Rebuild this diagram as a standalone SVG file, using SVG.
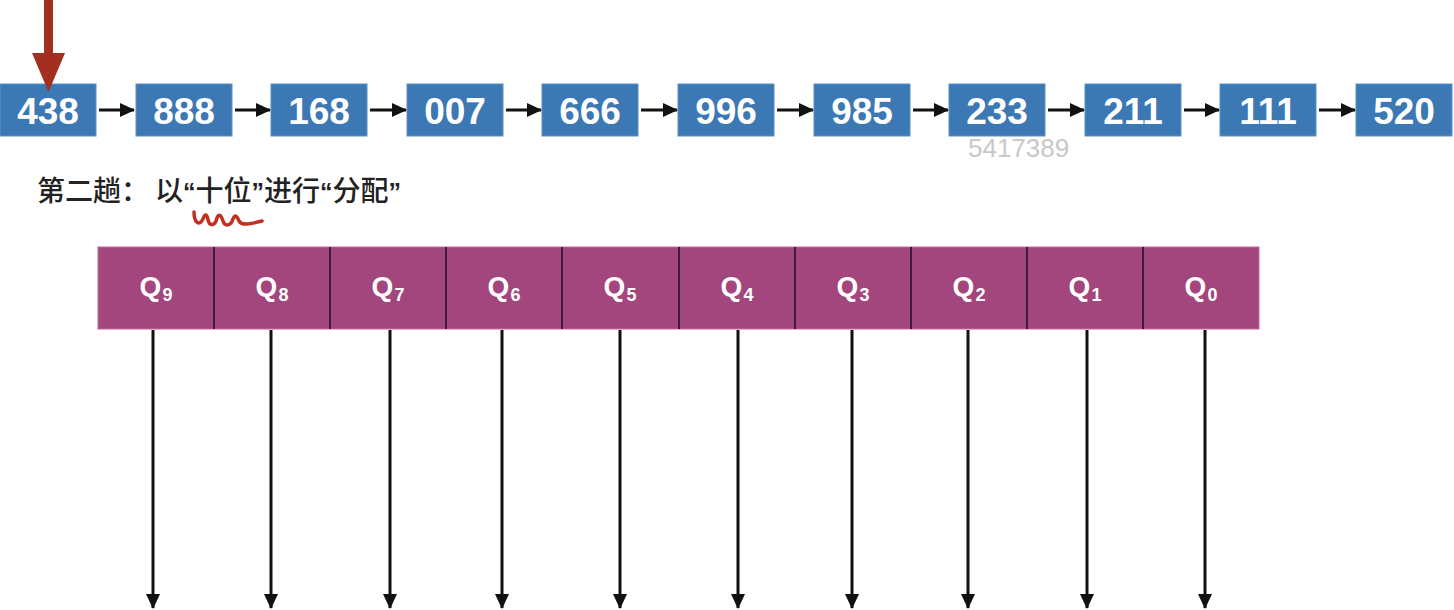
<svg xmlns="http://www.w3.org/2000/svg" width="1454" height="610" viewBox="0 0 1454 610">
<style>
.box{fill:#3b78b4;stroke:#5a90c4;stroke-width:1}
.num{font-family:"Liberation Sans",Arial,sans-serif;font-weight:bold;font-size:37px;fill:#fff;text-anchor:middle}
.conn{stroke:#111;stroke-width:3;fill:none}
.q{font-family:"Liberation Sans",Arial,sans-serif;font-weight:bold;font-size:28px;fill:#fff;text-anchor:middle}
.qs{font-size:18px}
.div{stroke:#3e1a44;stroke-width:2}
.cn{font-family:"Noto Sans CJK SC","Liberation Sans",sans-serif;font-size:28px;font-weight:500;fill:#222}
.quo{font-family:"Liberation Sans",Arial,sans-serif;font-weight:bold;font-size:25px}
</style>
<defs>
<marker id="ah" markerUnits="userSpaceOnUse" markerWidth="16" markerHeight="16" refX="14" refY="8" orient="auto">
<path d="M0,1 L15,8 L0,15 Z" fill="#111"/>
</marker>
</defs>
<rect width="1454" height="610" fill="#fff"/>

<g id="list">
<g id="n0"><rect class="box" x="0" y="84" width="96" height="52"/><text class="num" x="48" y="124">438</text></g>
<g id="n1"><rect class="box" x="136" y="84" width="96" height="52"/><text class="num" x="184" y="124">888</text></g>
<g id="n2"><rect class="box" x="271" y="84" width="96" height="52"/><text class="num" x="319" y="124">168</text></g>
<g id="n3"><rect class="box" x="407" y="84" width="96" height="52"/><text class="num" x="455" y="124">007</text></g>
<g id="n4"><rect class="box" x="542" y="84" width="96" height="52"/><text class="num" x="590" y="124">666</text></g>
<g id="n5"><rect class="box" x="678" y="84" width="96" height="52"/><text class="num" x="726" y="124">996</text></g>
<g id="n6"><rect class="box" x="814" y="84" width="96" height="52"/><text class="num" x="862" y="124">985</text></g>
<g id="n7"><rect class="box" x="949" y="84" width="96" height="52"/><text class="num" x="997" y="124">233</text></g>
<g id="n8"><rect class="box" x="1085" y="84" width="96" height="52"/><text class="num" x="1133" y="124">211</text></g>
<g id="n9"><rect class="box" x="1220" y="84" width="96" height="52"/><text class="num" x="1268" y="124">111</text></g>
<g id="n10"><rect class="box" x="1356" y="84" width="96" height="52"/><text class="num" x="1404" y="124">520</text></g>
</g>

<g id="pointer">
<rect x="44" y="0" width="9" height="56" fill="#a3301f"/>
<path d="M32,53 L65,53 L48.5,92 Z" fill="#a3301f"/>
</g>

<text x="968" y="157" font-family="'Liberation Sans',Arial,sans-serif" font-size="26" fill="#c8c8c8">5417389</text>

<text class="cn" y="201"><tspan x="37">第二趟：</tspan><tspan x="155">以</tspan><tspan class="quo">“</tspan>十位<tspan class="quo">”</tspan>进行<tspan class="quo">“</tspan>分配<tspan class="quo">”</tspan></text>
<path d="M194,212 C194,222 199,227 203,219 C205,213 207,214 208,220 C210,227 215,226 217,218 C219,213 221,215 223,221 C225,227 231,226 233,219 C235,214 237,216 239,221 C242,226 250,224 262,221" fill="none" stroke="#c0301f" stroke-width="3.5" stroke-linecap="round" stroke-linejoin="round"/>

<g id="queues">
<rect x="98" y="247" width="1161" height="82" fill="#a3467e" stroke="#c46a9e" stroke-width="1"/>
<line class="div" x1="214" y1="247" x2="214" y2="329"/>
<line class="div" x1="330" y1="247" x2="330" y2="329"/>
<line class="div" x1="446" y1="247" x2="446" y2="329"/>
<line class="div" x1="562" y1="247" x2="562" y2="329"/>
<line class="div" x1="679" y1="247" x2="679" y2="329"/>
<line class="div" x1="795" y1="247" x2="795" y2="329"/>
<line class="div" x1="911" y1="247" x2="911" y2="329"/>
<line class="div" x1="1027" y1="247" x2="1027" y2="329"/>
<line class="div" x1="1143" y1="247" x2="1143" y2="329"/>
<g id="q9"><text class="q" x="156" y="296">Q<tspan class="qs" dx="1" dy="5">9</tspan></text></g>
<g id="q8"><text class="q" x="272" y="296">Q<tspan class="qs" dx="1" dy="5">8</tspan></text></g>
<g id="q7"><text class="q" x="388" y="296">Q<tspan class="qs" dx="1" dy="5">7</tspan></text></g>
<g id="q6"><text class="q" x="504" y="296">Q<tspan class="qs" dx="1" dy="5">6</tspan></text></g>
<g id="q5"><text class="q" x="620" y="296">Q<tspan class="qs" dx="1" dy="5">5</tspan></text></g>
<g id="q4"><text class="q" x="737" y="296">Q<tspan class="qs" dx="1" dy="5">4</tspan></text></g>
<g id="q3"><text class="q" x="853" y="296">Q<tspan class="qs" dx="1" dy="5">3</tspan></text></g>
<g id="q2"><text class="q" x="969" y="296">Q<tspan class="qs" dx="1" dy="5">2</tspan></text></g>
<g id="q1"><text class="q" x="1085" y="296">Q<tspan class="qs" dx="1" dy="5">1</tspan></text></g>
<g id="q0"><text class="q" x="1201" y="296">Q<tspan class="qs" dx="1" dy="5">0</tspan></text></g>
</g>

<g id="connectors">
<line class="conn" x1="99" y1="110" x2="134" y2="110" marker-end="url(#ah)"/>
<line class="conn" x1="235" y1="110" x2="270" y2="110" marker-end="url(#ah)"/>
<line class="conn" x1="370" y1="110" x2="406" y2="110" marker-end="url(#ah)"/>
<line class="conn" x1="506" y1="110" x2="541" y2="110" marker-end="url(#ah)"/>
<line class="conn" x1="641" y1="110" x2="677" y2="110" marker-end="url(#ah)"/>
<line class="conn" x1="777" y1="110" x2="813" y2="110" marker-end="url(#ah)"/>
<line class="conn" x1="913" y1="110" x2="948" y2="110" marker-end="url(#ah)"/>
<line class="conn" x1="1048" y1="110" x2="1084" y2="110" marker-end="url(#ah)"/>
<line class="conn" x1="1184" y1="110" x2="1219" y2="110" marker-end="url(#ah)"/>
<line class="conn" x1="1319" y1="110" x2="1355" y2="110" marker-end="url(#ah)"/>
<line class="conn" x1="153" y1="330" x2="153" y2="608" marker-end="url(#ah)"/>
<line class="conn" x1="271" y1="330" x2="271" y2="608" marker-end="url(#ah)"/>
<line class="conn" x1="390" y1="330" x2="390" y2="608" marker-end="url(#ah)"/>
<line class="conn" x1="502" y1="330" x2="502" y2="608" marker-end="url(#ah)"/>
<line class="conn" x1="620" y1="330" x2="620" y2="608" marker-end="url(#ah)"/>
<line class="conn" x1="738" y1="330" x2="738" y2="608" marker-end="url(#ah)"/>
<line class="conn" x1="852" y1="330" x2="852" y2="608" marker-end="url(#ah)"/>
<line class="conn" x1="968" y1="330" x2="968" y2="608" marker-end="url(#ah)"/>
<line class="conn" x1="1087" y1="330" x2="1087" y2="608" marker-end="url(#ah)"/>
<line class="conn" x1="1205" y1="330" x2="1205" y2="608" marker-end="url(#ah)"/>
</g>
</svg>
